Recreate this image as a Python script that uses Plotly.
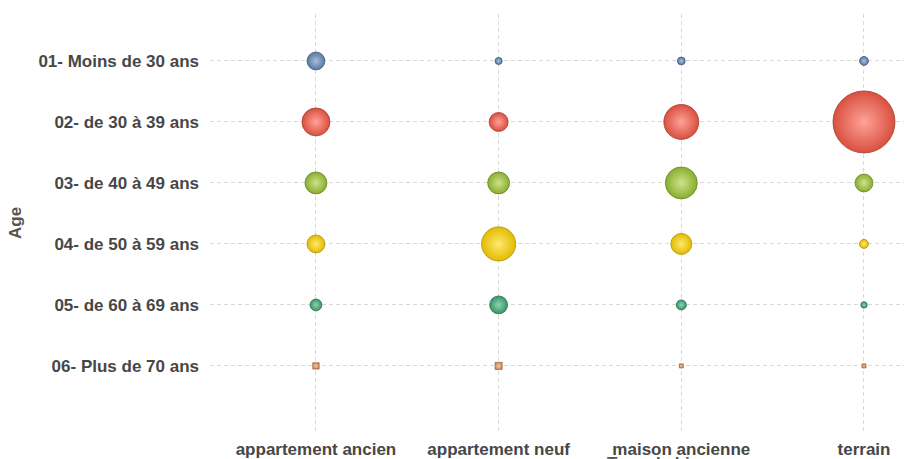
import plotly.graph_objects as go

categories = ["appartement ancien", "appartement neuf", "maison ancienne", "terrain"]
ages = ["01- Moins de 30 ans", "02- de 30 à 39 ans", "03- de 40 à 49 ans",
        "04- de 50 à 59 ans", "05- de 60 à 69 ans", "06- Plus de 70 ans"]

# estimated counts per age group, one value per category
moins_30 = [32, 5, 6, 8]
de_30_39 = [78, 36, 122, 384]
de_40_49 = [48, 48, 102, 32]
de_50_59 = [32, 116, 44, 8]
de_60_69 = [14, 32, 10, 4]
plus_70 = [4, 5, 1, 1]

series = [moins_30, de_30_39, de_40_49, de_50_59, de_60_69, plus_70]
colors = ["#56779f", "#d8503f", "#89ad2e", "#e3bb00", "#379468", "#cf8d5e"]
lights = ["#a9bfdc", "#ffa298", "#cde38a", "#ffe870", "#8fd3b0", "#f0c6a6"]
edges = ["#3f5c80", "#a83a2e", "#678622", "#b08f00", "#276f4d", "#9e6642"]
symbols = ["circle", "circle", "circle", "circle", "circle", "square"]

max_v = max(max(s) for s in series)
max_d = 62
sizeref = 2 * max_v / (max_d ** 2)

fig = go.Figure()
for i, (age, vals) in enumerate(zip(ages, series)):
    fig.add_trace(go.Scatter(
        x=list(range(len(categories))),
        y=[i] * len(categories),
        mode="markers",
        name=age,
        marker=dict(
            size=vals,
            sizemode="area",
            sizeref=sizeref,
            sizemin=2,
            color=colors[i],
            symbol=symbols[i],
            gradient=dict(type="radial", color=lights[i]),
            line=dict(color=edges[i], width=0.8),
            opacity=1,
        ),
        cliponaxis=False,
        hovertemplate="%{text}<extra></extra>",
        text=[f"{age} / {c}: {v}" for c, v in zip(categories, vals)],
    ))

font_tick = dict(family="Liberation Sans, Arial, sans-serif", size=17, color="#474747")

fig.update_layout(
    width=904, height=459,
    margin=dict(l=210, r=0, t=14, b=26),
    paper_bgcolor="white", plot_bgcolor="white",
    showlegend=False,
    font=dict(family="Liberation Sans, Arial, sans-serif"),
    xaxis=dict(
        range=[-0.58, 3.219],
        tickmode="array",
        tickvals=list(range(len(categories))),
        ticktext=[f"<b>{c}</b>" for c in categories],
        tickfont=font_tick,
        showgrid=True, gridcolor="#d9d9d9", gridwidth=1, griddash="4px,3px",
        zeroline=False, showline=False, ticks="",
        ticklabelstandoff=4,
    ),
    yaxis=dict(
        range=[6.10, -0.77],
        tickmode="array",
        tickvals=list(range(len(ages))),
        ticktext=[f"<b>{a}</b>" for a in ages],
        tickfont=font_tick,
        showgrid=True, gridcolor="#d9d9d9", gridwidth=1, griddash="4px,3px",
        zeroline=False, showline=False, ticks="",
        ticklabelstandoff=10,
    ),
    annotations=[
        dict(text="<b>Age</b>", xref="paper", yref="paper",
             x=(15.5 - 210) / 694, y=0.5, xanchor="center", yanchor="middle",
             textangle=-90, showarrow=False,
             font=dict(family="Liberation Sans, Arial, sans-serif", size=17, color="#555555")),
        dict(text="<b>Type de bien</b>", xref="paper", yref="paper",
             x=(605 - 210) / 694, y=(433 - 452) / 419, xanchor="left", yanchor="top",
             showarrow=False,
             font=dict(family="Liberation Sans, Arial, sans-serif", size=17, color="#555555")),
    ],
)

fig.write_html("out.html")
